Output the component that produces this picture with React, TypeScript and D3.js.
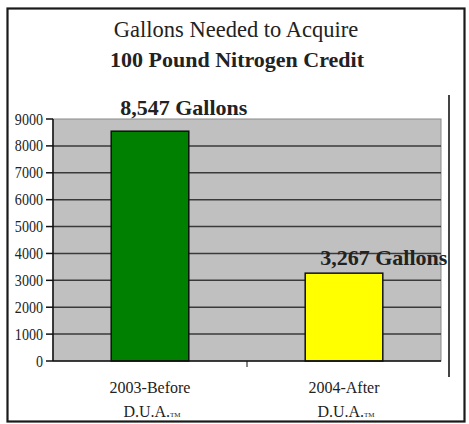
import React from "react";
import * as d3 from "d3";

const categories = ["2003-Before", "2004-After"];
const values = [8547, 3267];
const valueLabels = ["8,547 Gallons", "3,267 Gallons"];
const barColors = ["#008000", "#ffff00"];
const yTicks = [0, 1000, 2000, 3000, 4000, 5000, 6000, 7000, 8000, 9000];
const titleLine1 = "Gallons Needed to Acquire";
const titleLine2 = "100 Pound Nitrogen Credit";

const W = 469;
const H = 424;
const FONT = "Liberation Serif, Tinos, Times New Roman, serif";

const labelDx = [9, 15];
const labelDy = [-16, -8];

export default function App() {
  const plot = { left: 53, right: 441, top: 119, bottom: 361 };
  const x = d3
    .scaleBand<string>()
    .domain(categories)
    .range([plot.left, plot.right])
    .paddingInner(0.6)
    .paddingOuter(0.3);
  const y = d3.scaleLinear().domain([0, 9000]).range([plot.bottom, plot.top]);
  const step = x.step();
  const ts = { fontFamily: FONT };

  return (
    <svg
      width={W}
      height={H}
      style={{ position: "absolute", left: 0, top: 0, background: "#fff", fontFamily: FONT }}
    >
      {/* outer border */}
      <rect x={7.5} y={8.5} width={457} height={413} fill="none" stroke="#1a1a1a" strokeWidth={2.2} />
      {/* inner chart frame right line */}
      <line x1={449} x2={449} y1={95} y2={377} stroke="#444" strokeWidth={2} />

      {/* title */}
      <text x={236} y={37} textAnchor="middle" fontSize={22.5} fill="#222" style={ts}>
        {titleLine1}
      </text>
      <text x={237} y={67} textAnchor="middle" fontSize={22} fontWeight="bold" fill="#222" style={ts}>
        {titleLine2}
      </text>

      {/* plot area */}
      <rect
        x={plot.left}
        y={plot.top}
        width={plot.right - plot.left}
        height={plot.bottom - plot.top}
        fill="#c0c0c0"
        stroke="#8a8a8a"
        strokeWidth={1}
      />
      {yTicks
        .filter((t) => t > 0 && t < 9000)
        .map((t) => (
          <line
            key={"g" + t}
            x1={plot.left}
            x2={plot.right}
            y1={y(t)}
            y2={y(t)}
            stroke="#3a3a3a"
            strokeWidth={1.5}
          />
        ))}

      {/* bars */}
      {categories.map((c, i) => (
        <rect
          key={c}
          x={x(c)!}
          y={y(values[i])}
          width={x.bandwidth()}
          height={y(0) - y(values[i])}
          fill={barColors[i]}
          stroke="#111"
          strokeWidth={1.5}
        />
      ))}

      {/* value labels */}
      {categories.map((c, i) => (
        <text
          key={"v" + c}
          x={x(c)! + labelDx[i]}
          y={y(values[i]) + labelDy[i]}
          fontSize={22}
          fontWeight="bold"
          fill="#222"
          style={ts}
        >
          {valueLabels[i]}
        </text>
      ))}

      {/* y axis */}
      <line x1={plot.left} x2={plot.left} y1={plot.top} y2={plot.bottom} stroke="#111" strokeWidth={1.5} />
      {yTicks.map((t) => (
        <g key={"t" + t}>
          <line x1={plot.left - 7} x2={plot.left} y1={y(t)} y2={y(t)} stroke="#111" strokeWidth={1.5} />
          <text
            transform={`translate(43,${y(t) + 5.5}) scale(0.88,1)`}
            textAnchor="end"
            fontSize={16}
            fill="#222"
            style={ts}
          >
            {t}
          </text>
        </g>
      ))}

      {/* x axis */}
      <line x1={plot.left} x2={plot.right} y1={plot.bottom} y2={plot.bottom} stroke="#111" strokeWidth={1.5} />
      {categories.slice(0, -1).map((c) => (
        <line
          key={"xt" + c}
          x1={x(c)! - x.paddingOuter() * step + step}
          x2={x(c)! - x.paddingOuter() * step + step}
          y1={plot.bottom}
          y2={plot.bottom + 6}
          stroke="#111"
          strokeWidth={1}
        />
      ))}
      {categories.map((c) => {
        const cx = x(c)! + x.bandwidth() / 2;
        return (
          <g key={"xl" + c}>
            <text x={cx} y={393} textAnchor="middle" fontSize={16} fill="#222" style={ts}>
              {c}
            </text>
            <text x={cx + 2} y={417} textAnchor="middle" fontSize={16} fill="#222" style={ts}>
              D.U.A.
              <tspan fontSize={7}>TM</tspan>
            </text>
          </g>
        );
      })}
    </svg>
  );
}
